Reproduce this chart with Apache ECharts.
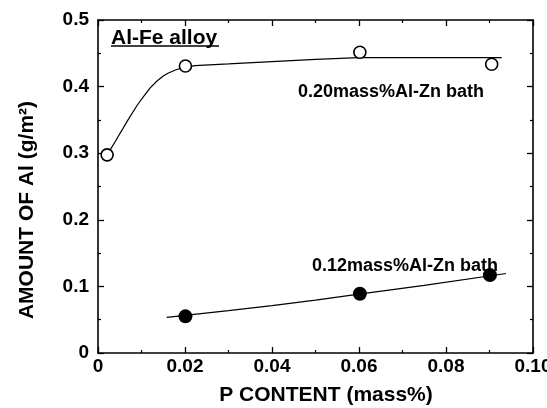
<!DOCTYPE html>
<html>
<head>
<meta charset="utf-8">
<script src="https://cdn.jsdelivr.net/npm/echarts@6/dist/echarts.min.js"></script>
<style>html,body{margin:0;padding:0;background:#fff;overflow:hidden;}#c{width:547px;height:408px;}</style>
</head>
<body>
<div id="c"></div>
<script>
// Measured points
var openPts = [[0.0021, 0.2975], [0.0201, 0.431], [0.0602, 0.4515], [0.0905, 0.4335]];
var filledPts = [[0.0201, 0.055], [0.0602, 0.089], [0.0901, 0.117]];
// Fitted curves
var openCurve = [[0.0021, 0.2975], [0.004, 0.318], [0.0069, 0.35], [0.009, 0.372], [0.0108, 0.388], [0.012, 0.398], [0.0135, 0.408], [0.015, 0.416], [0.0162, 0.4205], [0.0178, 0.425], [0.0192, 0.428], [0.0223, 0.4315], [0.03, 0.434], [0.04, 0.4375], [0.05, 0.441], [0.06, 0.4435], [0.0928, 0.4435]];
var filledCurve = [[0.0158, 0.0534], [0.03, 0.0635], [0.04, 0.071], [0.05, 0.0795], [0.06, 0.0885], [0.075, 0.1015], [0.0938, 0.1194]];
// Axis ticks
var xTicks = [0, 0.02, 0.04, 0.06, 0.08, 0.10];
var yTicks = [0, 0.1, 0.2, 0.3, 0.4, 0.5];
var labelTop = '0.20mass%Al-Zn bath';
var labelBottom = '0.12mass%Al-Zn bath';
var titleText = 'Al-Fe alloy';
var xTitle = 'P CONTENT (mass%)';
var yTitle = 'AMOUNT OF Al (g/m\u00B2)';

var FONT = '"Liberation Sans", Arial, Helvetica, sans-serif';
var chart = echarts.init(document.getElementById('c'), null, {renderer: 'canvas', width: 547, height: 408});
function xFmt(v) {
  var i = xTicks.findIndex(function (t) { return Math.abs(t - v) < 1e-9; });
  if (i < 0) return '';
  return v === 0 ? '0' : v.toFixed(2);
}
function yFmt(v) {
  var i = yTicks.findIndex(function (t) { return Math.abs(t - v) < 1e-9; });
  if (i < 0) return '';
  return v === 0 ? '0' : v.toFixed(1);
}
var axisLine = {show: true, onZero: false, lineStyle: {color: '#000', width: 1.6}};
var minorTick = {show: true, splitNumber: 2, length: 3, lineStyle: {color: '#000', width: 1.2}};
var axisTick = {show: true, inside: true, length: 6, lineStyle: {color: '#000', width: 1.3}};
var option = {
  backgroundColor: '#fff',
  animation: false,
  grid: {left: 98, right: 14, top: 20, bottom: 55, containLabel: false, outerBoundsMode: 'none'},
  xAxis: [
    {type: 'value', min: 0, max: 0.1, interval: 0.02, position: 'bottom',
     axisLine: axisLine, axisTick: axisTick, minorTick: minorTick, splitLine: {show: false},
     axisLabel: {formatter: xFmt, color: '#000', fontFamily: FONT, fontWeight: 'bold', fontSize: 19, margin: 4}},
    {type: 'value', min: 0, max: 0.1, interval: 0.02, position: 'top',
     axisLine: axisLine, axisTick: axisTick, minorTick: minorTick, splitLine: {show: false},
     axisLabel: {show: false}}
  ],
  yAxis: [
    {type: 'value', min: 0, max: 0.5, interval: 0.1, position: 'left',
     axisLine: axisLine, axisTick: axisTick, minorTick: minorTick, splitLine: {show: false},
     axisLabel: {formatter: yFmt, color: '#000', fontFamily: FONT, fontWeight: 'bold', fontSize: 19, margin: 9}},
    {type: 'value', min: 0, max: 0.5, interval: 0.1, position: 'right',
     axisLine: axisLine, axisTick: axisTick, minorTick: minorTick, splitLine: {show: false},
     axisLabel: {show: false}}
  ],
  series: [
    {type: 'line', data: openCurve, smooth: false, showSymbol: false, symbol: 'none',
     lineStyle: {color: '#000', width: 1.2}, z: 2},
    {type: 'line', data: filledCurve, smooth: false, showSymbol: false, symbol: 'none',
     lineStyle: {color: '#000', width: 1.2}, z: 2},
    {type: 'scatter', data: openPts, symbol: 'circle', symbolSize: 12,
     itemStyle: {color: '#fff', borderColor: '#000', borderWidth: 1.6, opacity: 1}, z: 3},
    {type: 'scatter', data: filledPts, symbol: 'circle', symbolSize: 14,
     itemStyle: {color: '#000', borderColor: '#000', borderWidth: 0, opacity: 1}, z: 3}
  ],
  graphic: [
    {type: 'text', x: 111, y: 38, style: {text: titleText, fill: '#000', font: 'bold 21px ' + FONT, textVerticalAlign: 'middle', textAlign: 'left'}},
    {type: 'line', shape: {x1: 111, y1: 46, x2: 219, y2: 46}, style: {stroke: '#000', lineWidth: 1.3}},
    {type: 'text', x: 391, y: 92, style: {text: labelTop, fill: '#000', font: 'bold 18px ' + FONT, textVerticalAlign: 'middle', textAlign: 'center'}},
    {type: 'text', x: 405, y: 266, style: {text: labelBottom, fill: '#000', font: 'bold 18px ' + FONT, textVerticalAlign: 'middle', textAlign: 'center'}},
    {type: 'text', x: 326, y: 395, style: {text: xTitle, fill: '#000', font: 'bold 21px ' + FONT, textVerticalAlign: 'middle', textAlign: 'center'}},
    {type: 'text', x: 27, y: 210, rotation: Math.PI / 2, style: {text: yTitle, fill: '#000', font: 'bold 21px ' + FONT, textVerticalAlign: 'middle', textAlign: 'center'}}
  ]
};
chart.setOption(option);
</script>
</body>
</html>
